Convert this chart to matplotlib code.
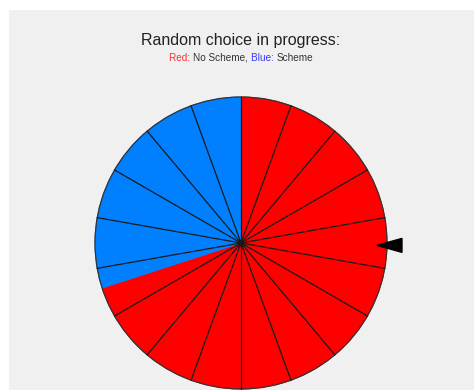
import numpy as np
import matplotlib
matplotlib.use('Agg')
import matplotlib.pyplot as plt
from matplotlib.patches import Rectangle, Polygon

# wheel data
labels = ['No Scheme', 'Scheme']
shares = [0.70, 0.30]
colors = ['#ff0000', '#0080ff']
n_sectors = 18
pointer_angle = -1.0  # degrees, where the pointer sits (3 o'clock)

W, H = 474, 390
fig = plt.figure(figsize=(W / 100, H / 100), dpi=100, facecolor='white')
fig.patches.append(Rectangle((9 / W, 0), 1, 1 - 10 / H, transform=fig.transFigure,
                             facecolor='#f0f0f0', edgecolor='none', zorder=-1))

ax = fig.add_axes([0, 0, 1, 1])
cx, cy, r = 241, H - 243, 146
wedges, _ = ax.pie(shares, colors=colors, startangle=90, counterclock=False, center=(cx, cy),
                   radius=r, frame=True)
for wdg, c in zip(wedges, colors):
    wdg.set_edgecolor(c)
    wdg.set_linewidth(0.6)
ax.set_xlim(0, W)
ax.set_ylim(0, H)
ax.set_aspect('equal')
ax.axis('off')

# spokes
for k in range(n_sectors):
    a = np.deg2rad(90 - k * 360 / n_sectors)
    ax.plot([cx, cx + r * np.cos(a)], [cy, cy + r * np.sin(a)], color='#1a1a1a', lw=0.9)
ax.add_patch(plt.Circle((cx, cy), r, fill=False, edgecolor='#333333', lw=0.9))
ax.add_patch(plt.Circle((cx, cy), 2.5, color='black'))

# pointer
a = np.deg2rad(pointer_angle)
tip = (cx + (r - 10) * np.cos(a), cy + (r - 10) * np.sin(a))
ax.add_patch(Polygon([tip, (tip[0] + 25, tip[1] + 7), (tip[0] + 25, tip[1] - 7)],
                     closed=True, color='black', clip_on=False))

# titles
fig.text(241 / W, 1 - 40 / H, 'Random choice in progress:', ha='center', va='center',
         fontsize=11.5, color='#222222', family='Liberation Sans')

parts = [('Red: ', '#ff3030'), ('No Scheme, ', '#333333'), ('Blue: ', '#3a3aff'), ('Scheme', '#333333')]
fig.canvas.draw()
rend = fig.canvas.get_renderer()
texts = []
total = 0
for s, c in parts:
    t = fig.text(0, 1 - 58 / H, s.replace(' ', '\u00a0'), ha='left', va='center',
                 fontsize=7.2, color=c, family='Liberation Sans')
    w = t.get_window_extent(renderer=rend).width
    texts.append((t, w))
    total += w
x = 241 - total / 2
for t, w in texts:
    t.set_x(x / W)
    x += w

fig.savefig('out.png', dpi=100, facecolor=fig.get_facecolor())
